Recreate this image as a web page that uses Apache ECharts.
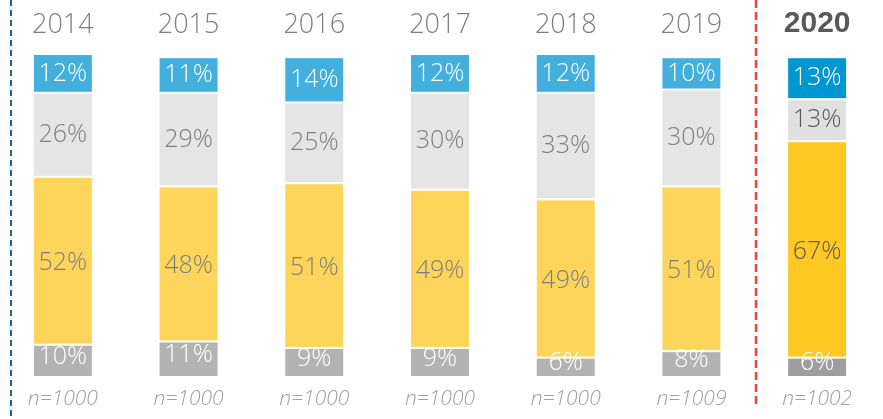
<!DOCTYPE html>
<html>
<head>
<meta charset="utf-8">
<script src="https://cdn.jsdelivr.net/npm/echarts@6/dist/echarts.min.js"></script>
<style>
  html, body { margin: 0; padding: 0; background: #fff; }
  #main { width: 883px; height: 419px; }
</style>
</head>
<body>
<div id="main"></div>
<script>
var years = ['2014', '2015', '2016', '2017', '2018', '2019', '2020'];
var sampleSizes = ['n=1000', 'n=1000', 'n=1000', 'n=1000', 'n=1000', 'n=1009', 'n=1002'];
var bottomVals = [10, 11, 9, 9, 6, 8, 6];
var yellowVals = [52, 48, 51, 49, 49, 51, 67];
var lightVals = [26, 29, 25, 30, 33, 30, 13];
var blueVals = [12, 11, 14, 12, 12, 10, 13];

var FONT = '"Open Sans", Lato, sans-serif';
var lastIdx = years.length - 1;

// 2020 gets stronger colours
function paint(vals, color, hiColor, labelColor, hiLabel) {
  return vals.map(function (v, i) {
    var hi = i === lastIdx;
    return {
      value: v,
      itemStyle: { color: hi ? hiColor : color },
      label: { color: hi ? hiLabel : labelColor }
    };
  });
}

function makeSeries(name, data, offset) {
  return {
    name: name,
    type: 'bar',
    stack: 'total',
    barWidth: 60,
    data: data,
    itemStyle: { borderColor: '#fff', borderWidth: 1 },
    label: {
      show: true,
      position: 'inside',
      offset: offset || [0, 0],
      fontFamily: FONT,
      fontWeight: 300,
      fontSize: 25,
      formatter: '{c}%'
    }
  };
}

var myChart = echarts.init(document.getElementById('main'));

var option = {
  animation: false,
  backgroundColor: '#fff',
  grid: { left: -2, right: 3, top: 54, bottom: 42 },
  xAxis: [{
    type: 'category',
    position: 'top',
    data: years.map(function (y, i) {
      if (i === lastIdx) {
        return { value: y, textStyle: { fontWeight: 'bold', color: '#595959', fontFamily: '"Liberation Sans", Arial, sans-serif', fontSize: 30 } };
      }
      return y;
    }),
    axisLine: { show: false },
    axisTick: { show: false },
    axisLabel: { color: '#7f7f7f', fontFamily: FONT, fontWeight: 300, fontSize: 27, margin: 15 }
  }, {
    type: 'category',
    position: 'bottom',
    data: sampleSizes,
    axisLine: { show: false },
    axisTick: { show: false },
    axisLabel: { color: '#a0a0a0', fontFamily: FONT, fontWeight: 300, fontStyle: 'italic', fontSize: 21, margin: 12 }
  }],
  yAxis: { type: 'value', min: 0, max: 100, show: false },
  series: [
    makeSeries('bottom', paint(bottomVals, '#b3b3b3', '#9e9e9e', '#fff', '#fff'), [0, -4]),
    makeSeries('yellow', paint(yellowVals, '#fdd55a', '#ffc823', '#7f7f7f', '#595959'), [0, 2]),
    makeSeries('light', paint(lightVals, '#e5e5e5', '#e0e0e0', '#7f7f7f', '#595959')),
    makeSeries('blue', paint(blueVals, '#42afdc', '#0096d1', '#fff', '#fff'))
  ],
  graphic: [{
    type: 'line',
    shape: { x1: 11, y1: 0, x2: 11, y2: 419 },
    style: { stroke: '#1f5f9f', lineWidth: 2, lineDash: [6, 4] }
  }, {
    type: 'line',
    shape: { x1: 756, y1: 0, x2: 756, y2: 405 },
    style: { stroke: '#e8453a', lineWidth: 2.5, lineDash: [8, 4] }
  }]
};

myChart.setOption(option);
</script>
</body>
</html>
